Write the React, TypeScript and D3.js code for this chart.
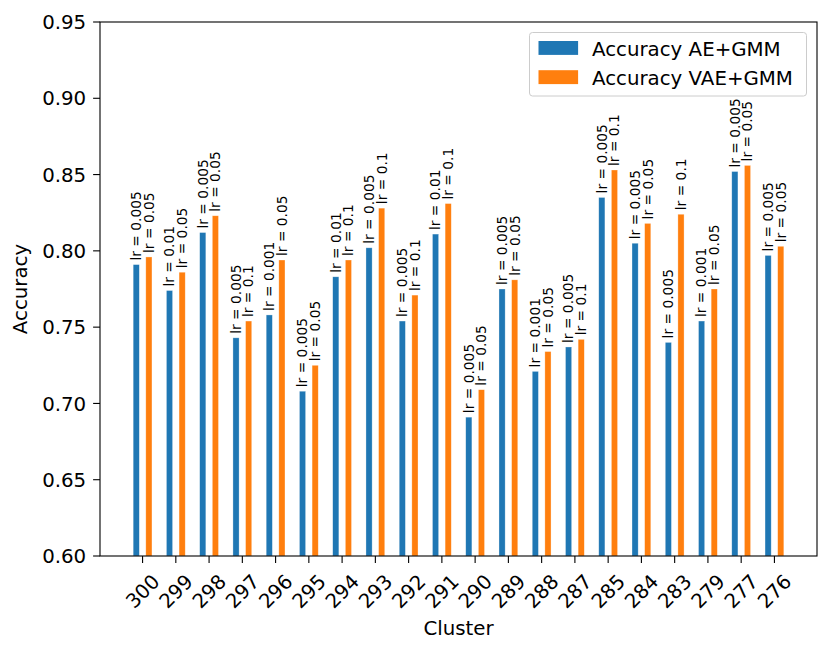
import React from 'react'
import * as d3 from 'd3'

// Cluster ids on the x axis
const clusters = ['300', '299', '298', '297', '296', '295', '294', '293', '292', '291', '290', '289', '288', '287', '285', '284', '283', '279', '277', '276']

// Accuracy values per cluster
const accAE = [0.791, 0.774, 0.812, 0.743, 0.758, 0.708, 0.783, 0.802, 0.754, 0.811, 0.691, 0.775, 0.721, 0.737, 0.835, 0.805, 0.740, 0.754, 0.852, 0.797]
const accVAE = [0.796, 0.786, 0.823, 0.754, 0.794, 0.725, 0.794, 0.828, 0.771, 0.831, 0.709, 0.781, 0.734, 0.742, 0.853, 0.818, 0.824, 0.775, 0.856, 0.803]

// Learning rate annotations above each bar
const lrAE = ['0.005', '0.01', '0.005', '0.005', '0.001', '0.005', '0.01', '0.005', '0.005', '0.01', '0.005', '0.005', '0.001', '0.005', '0.005', '0.005', '0.005', '0.001', '0.005', '0.005']
const lrVAE = ['0.05', '0.05', '0.05', '0.1', '0.05', '0.05', '0.1', '0.1', '0.1', '0.1', '0.05', '0.05', '0.05', '0.1', '0.1', '0.05', '0.1', '0.05', '0.05', '0.05']

const yTicks = [0.6, 0.65, 0.7, 0.75, 0.8, 0.85, 0.9, 0.95]

const seriesNames = ['Accuracy AE+GMM', 'Accuracy VAE+GMM']
const colors = ['#1f77b4', '#ff7f0e']

const WIDTH = 831
const HEIGHT = 653
const FONT = 'DejaVu Sans, sans-serif'
const FS = 19.8 // 10pt at this dpi
const TICK = 6.9

const left = 100
const right = 817
const top = 22
const bottom = 556

const x = d3.scaleLinear().domain([-1.28, clusters.length - 1 + 1.28]).range([left, right])
const y = d3.scaleLinear().domain([0.6, 0.95]).range([bottom, top])

const offset = 0.19
const barW = x(0.185) - x(0)
const labelSize = 13.8

export default function App() {
  const series = [
    { values: accAE, lr: lrAE, shift: -offset, color: colors[0] },
    { values: accVAE, lr: lrVAE, shift: offset, color: colors[1] },
  ]

  return (
    <svg
      width={WIDTH}
      height={HEIGHT}
      style={{ position: 'absolute', left: 0, top: 0, background: '#fff' }}
      fontFamily={FONT}
    >
      {/* bars */}
      {series.map((s, si) => (
        <g key={si} fill={s.color}>
          {s.values.map((v, i) => {
            const cx = x(i + s.shift)
            return (
              <rect
                key={i}
                x={cx - barW / 2}
                y={y(v)}
                width={barW}
                height={bottom - y(v)}
                stroke="#ffffff"
                strokeOpacity={0.5}
                strokeWidth={0.6}
              />
            )
          })}
        </g>
      ))}

      {/* lr labels */}
      {series.map((s, si) => (
        <g key={'l' + si} fontSize={labelSize} fill="#000">
          {s.values.map((v, i) => {
            const cx = x(i + s.shift)
            return (
              <text
                key={i}
                transform={`translate(${cx + labelSize * 0.35},${y(v) - 4}) rotate(-90)`}
                textAnchor="start"
              >
                {`lr = ${s.lr[i]}`}
              </text>
            )
          })}
        </g>
      ))}

      {/* spines */}
      <rect x={left} y={top} width={right - left} height={bottom - top} fill="none" stroke="#000" strokeWidth={1.1} />

      {/* y axis */}
      {yTicks.map(t => (
        <g key={t}>
          <line x1={left - TICK} x2={left} y1={y(t)} y2={y(t)} stroke="#000" strokeWidth={1.1} />
          <text x={left - 2 * TICK} y={y(t)} dy="0.36em" textAnchor="end" fontSize={FS} fill="#000">
            {t.toFixed(2)}
          </text>
        </g>
      ))}
      <text transform={`translate(27,${(top + bottom) / 2}) rotate(-90)`} textAnchor="middle" fontSize={FS} fill="#000">
        Accuracy
      </text>

      {/* x axis */}
      {clusters.map((c, i) => (
        <g key={c}>
          <line x1={x(i)} x2={x(i)} y1={bottom} y2={bottom + TICK} stroke="#000" strokeWidth={1.1} />
          <text
            transform={`translate(${x(i)},${bottom + 35.3}) rotate(-45)`}
            textAnchor="middle"
            dy="0.35em"
            fontSize={FS}
            fill="#000"
          >
            {c}
          </text>
        </g>
      ))}
      <text x={(left + right) / 2} y={635} textAnchor="middle" fontSize={FS} fill="#000">
        Cluster
      </text>

      {/* legend */}
      <rect x={529.5} y={32.5} width={277} height={63.5} rx={3} fill="#fff" fillOpacity={0.8} stroke="#cccccc" strokeWidth={1} />
      {seriesNames.map((name, i) => (
        <g key={name}>
          <rect x={538.5} y={41 + i * 29.2} width={39.6} height={13.9} fill={colors[i]} />
          <text x={592} y={48.6 + i * 29} dy="0.36em" fontSize={FS} fill="#000">
            {name}
          </text>
        </g>
      ))}
    </svg>
  )
}
